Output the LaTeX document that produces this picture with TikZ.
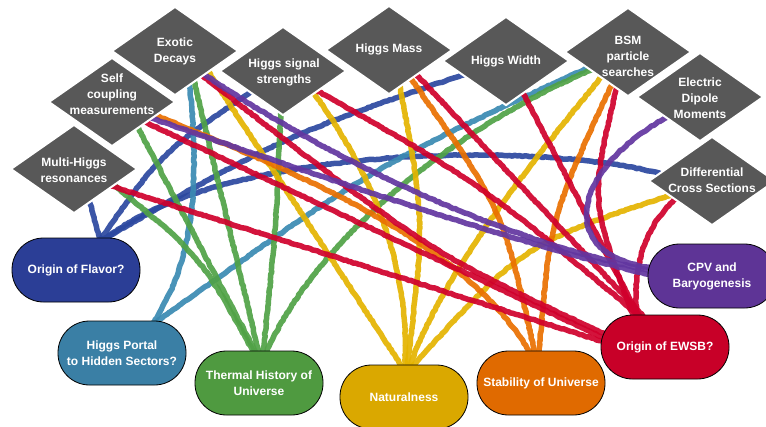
\documentclass[tikz,border=0pt]{standalone}
\usepackage{fontspec}
\setmainfont{Liberation Sans}
\usetikzlibrary{shapes.geometric,decorations.pathmorphing,calc}
\pgfdeclarelayer{bg}
\pgfsetlayers{bg,main}
\definecolor{diaC}{RGB}{88,88,88}
\definecolor{blueL}{RGB}{44,72,160}
\definecolor{tealL}{RGB}{58,138,178}
\definecolor{greenL}{RGB}{80,162,70}
\definecolor{yellowL}{RGB}{228,180,0}
\definecolor{orangeL}{RGB}{234,112,0}
\definecolor{redL}{RGB}{208,0,44}
\definecolor{purpleL}{RGB}{98,54,160}
\definecolor{flavorC}{RGB}{43,62,150}
\definecolor{portalC}{RGB}{58,127,165}
\definecolor{thermalC}{RGB}{79,154,64}
\definecolor{naturalC}{RGB}{218,168,0}
\definecolor{stabilityC}{RGB}{224,106,0}
\definecolor{ewsbC}{RGB}{200,0,40}
\definecolor{cpvC}{RGB}{94,52,150}
\begin{document}
\begin{tikzpicture}[x=1pt,y=-1pt,
  dia/.style={shape=diamond, fill=diaC, draw=white, line width=2pt, minimum width=127pt, minimum height=89pt, inner sep=0pt},
  lbl/.style={text=white, font=\bfseries\fontsize{12}{16}\selectfont, align=center, inner sep=0pt},
  pill/.style={rectangle, rounded corners=31.5pt, draw=black, line width=0.8pt, minimum width=128pt, minimum height=64pt, inner sep=0pt, text=white, font=\bfseries\fontsize{12}{16}\selectfont, align=center},
  crayon/.style={line width=5.5pt, line cap=round, line join=round, draw opacity=0.92, decorate, decoration={random steps, segment length=2.5pt, amplitude=0.5pt}},
  bl/.style={crayon, draw=blueL},
  te/.style={crayon, draw=tealL},
  gr/.style={crayon, draw=greenL},
  ye/.style={crayon, draw=yellowL},
  or/.style={crayon, draw=orangeL},
  rd/.style={crayon, draw=redL},
  pu/.style={crayon, draw=purpleL}
]
\useasboundingbox (0,0) rectangle (766,426);

% diamonds
\node[dia] (multi) at (74,169) {};
\node[dia] (self) at (112,102) {};
\node[dia] (exotic) at (175,51) {};
\node[dia] (signal) at (283,71) {};
\node[dia] (mass) at (389,50) {};
\node[dia] (width) at (506,61) {};
\node[dia] (bsm) at (628,52) {};
\node[dia] (edm) at (700,97) {};
\node[dia] (diff) at (712,181) {};

\node[lbl] (multiT) at (74,170) {Multi-Higgs\\resonances};
\node[lbl] (selfT) at (112,94) {Self\\coupling\\measurements};
\node[lbl] (exoticT) at (175,51) {Exotic\\Decays};
\node[lbl] (signalT) at (284,72) {Higgs signal\\strengths};
\node[lbl] (massT) at (389,49) {Higgs Mass};
\node[lbl] (widthT) at (506,61) {Higgs Width};
\node[lbl] (bsmT) at (628,56) {BSM\\particle\\searches};
\node[lbl] (edmT) at (700,98) {Electric\\Dipole\\Moments};
\node[lbl] (diffT) at (712,180) {Differential\\Cross Sections};

% boxes
\node[pill, fill=flavorC] (flavor) at (76,270) {Origin of Flavor?};
\node[pill, fill=portalC] (portal) at (122,353) {Higgs Portal\\to Hidden Sectors?};
\node[pill, fill=thermalC] (thermal) at (259,383) {Thermal History of\\Universe};
\node[pill, fill=naturalC] (natural) at (404,397) {Naturalness};
\node[pill, fill=stabilityC] (stability) at (541,383) {Stability of Universe};
\node[pill, fill=ewsbC] (ewsb) at (665,347) {Origin of EWSB?};
\node[pill, fill=cpvC] (cpv) at (712,276) {CPV and\\Baryogenesis};

\begin{pgfonlayer}{bg}
\fill[white] (0,0) rectangle (766,426);
% blue -> flavor
\draw[bl] ($(multi)+(14,27)$) -- ($(flavor)+(24,-30)$);
\draw[bl] ($(signal)+(-28,18)$) .. controls (161,153) .. ($(flavor)+(24,-30)$);
\draw[bl] ($(width)+(-38,12)$) .. controls (282,137) .. ($(flavor)+(26,-30)$);
\draw[bl] ($(diff)+(-46,-6)$) .. controls (540,140) and (220,145) .. ($(flavor)+(28,-30)$);
% teal -> portal
\draw[te] ($(exotic)+(14,28)$) .. controls (200,180) and (195,260) .. ($(portal)+(31,-30)$);
\draw[te] ($(bsm)+(-34,13)$) .. controls (372,167) .. ($(portal)+(33,-30)$);
% green -> thermal
\draw[gr] ($(multi)+(36,13)$) .. controls (200,255) .. ($(thermal)+(-5,-30)$);
\draw[gr] ($(self)+(24,22)$) -- ($(thermal)+(-3,-30)$);
\draw[gr] ($(exotic)+(18,26)$) -- ($(thermal)+(0,-30)$);
\draw[gr] ($(signal)+(-2,36)$) .. controls (276,230) .. ($(thermal)+(4,-30)$);
\draw[gr] ($(bsm)+(-32,16)$) .. controls (470,120) and (320,230) .. ($(thermal)+(7,-30)$);
% yellow -> naturalness
\draw[ye] ($(exotic)+(31,17)$) -- ($(natural)+(-1,-29)$);
\draw[ye] ($(signal)+(28,18)$) .. controls (370,170) and (410,260) .. ($(natural)+(1,-29)$);
\draw[ye] ($(mass)+(10,32)$) .. controls (425,220) .. ($(natural)+(3,-29)$);
\draw[ye] ($(bsm)+(-24,22)$) .. controls (520,175) and (440,280) .. ($(natural)+(5,-29)$);
\draw[ye] ($(diff)+(-38,13)$) .. controls (523,244) .. ($(natural)+(7,-29)$);
% orange -> stability
\draw[or] ($(self)+(40,12)$) .. controls (330,185) and (470,250) .. ($(stability)+(-10,-29)$);
\draw[or] ($(mass)+(20,26)$) .. controls (503,209) .. ($(stability)+(-6,-29)$);
\draw[or] ($(bsm)+(-15,30)$) .. controls (550,218) .. ($(stability)+(-2,-29)$);
% red -> ewsb
\draw[rd] ($(exotic)+(24,22)$) .. controls (430,253) .. ($(ewsb)+(-60,-13)$);
\draw[rd] ($(self)+(31,19)$) -- ($(ewsb)+(-61,-9)$);
\draw[rd] ($(multi)+(34,16)$) -- ($(ewsb)+(-61,-5)$);
\draw[rd] ($(signal)+(31,18)$) .. controls (480,183) .. ($(ewsb)+(-23,-29)$);
\draw[rd] ($(mass)+(25,22)$) -- ($(ewsb)+(-20,-29)$);
\draw[rd] ($(width)+(16,30)$) -- ($(ewsb)+(-25,-29)$);
\draw[rd] ($(bsm)+(-11,34)$) .. controls (590,200) .. ($(ewsb)+(-31,-29)$);
\draw[rd] ($(diff)+(-34,16)$) .. controls (645,225) and (632,265) .. ($(ewsb)+(-28,-29)$);
% purple -> cpv
\draw[pu] ($(exotic)+(27,22)$) .. controls (330,160) and (500,240) .. ($(cpv)+(-60,-5)$);
\draw[pu] ($(self)+(36,15)$) .. controls (300,170) and (520,245) .. ($(cpv)+(-60,-1)$);
\draw[pu] ($(edm)+(-31,19)$) .. controls (570,170) and (555,255) .. ($(cpv)+(-60,-8)$);
\end{pgfonlayer}
\end{tikzpicture}
\end{document}
